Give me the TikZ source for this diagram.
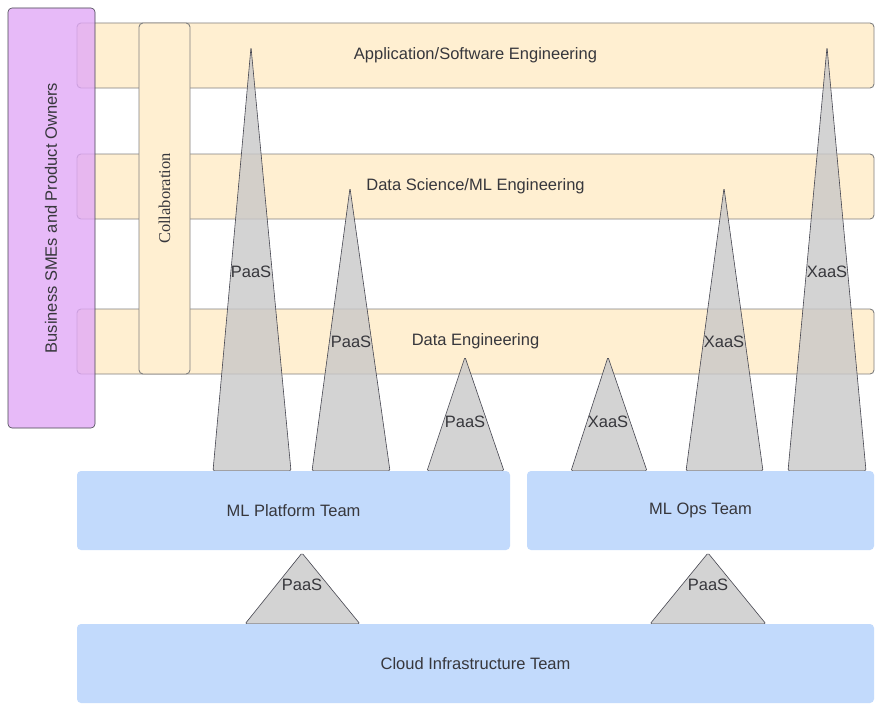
\documentclass[tikz,border=0pt]{standalone}
\usepackage{fontspec}
\setmainfont{Liberation Sans}
\newfontfamily\collabfont{Liberation Serif}
\definecolor{purplefill}{RGB}{225,169,247}
\definecolor{bandsolid}{RGB}{255,239,209}
\definecolor{bluefill}{RGB}{194,218,252}
\definecolor{trifill}{RGB}{200,200,200}
\definecolor{txt}{RGB}{55,55,60}
\definecolor{edge}{RGB}{128,128,128}
\definecolor{darkedge}{RGB}{70,70,80}
\begin{document}
\begin{tikzpicture}[x=1pt,y=-1pt,
  font=\fontsize{16.5}{19}\selectfont, text=txt,
  box/.style={rectangle, rounded corners=4pt, inner sep=0pt},
  band/.style={box, draw=edge, fill=bandsolid, line width=0.9pt},
  team/.style={box, fill=bluefill},
  tristyle/.style={fill=trifill, fill opacity=0.8, draw=darkedge, line width=0.6pt, rounded corners=1.5pt},
  lbl/.style={inner sep=0pt}]
\useasboundingbox (0,0) rectangle (880,709);
\fill[white] (0,0) rectangle (880,709);

% bands
\node[band, minimum width=797pt, minimum height=65pt] (app) at (475.5,55.5) {Application/Software Engineering};
\node[band, minimum width=797pt, minimum height=65pt] (dsml) at (475.5,186.5) {Data Science/ML Engineering};
\node[band, minimum width=797pt, minimum height=65pt] (dataeng) at (475.5,341.5) {Data Engineering};

% purple owners box
\node[box, draw=darkedge, fill=purplefill, fill opacity=0.8, line width=0.6pt,
      minimum width=87pt, minimum height=420pt] (owners) at (51.5,218) {};
\node[lbl, rotate=90] (ownerstext) at (51,218) {Business SMEs and Product Owners};

% triangles
\foreach \ax/\ay/\bl/\br/\by in {251/47/213/291/471, 350/188/312/390/471,
   465/357/427/504/471, 608/357/571/647/471, 724/188/686/763/471,
   827/47/788/866/471, 302/553/245/360/624, 708/553/650/766/624}{
  \draw[tristyle] (\ax,\ay) -- (\br,\by) -- (\bl,\by) -- cycle;
}

% collaboration box
\node[box, draw=edge, fill=bandsolid, line width=0.9pt,
      minimum width=51pt, minimum height=351pt] (collab) at (164.5,198.5) {};
\node[lbl, rotate=90, font=\collabfont\fontsize{16.5}{19}\selectfont] (collabtext) at (collab.center) {Collaboration};

% team boxes
\node[team, minimum width=433pt, minimum height=79pt] (mlplat) at (293.5,510.5) {ML Platform Team};
\node[team, minimum width=347pt, minimum height=79pt] (mlops) at (700.5,510.5) {ML Ops Team};
\node[team, minimum width=797pt, minimum height=79pt] (cloud) at (475.5,663.5) {Cloud Infrastructure Team};

% triangle labels
\node[lbl] (t1) at (251,272) {PaaS};
\node[lbl] (t2) at (351,342) {PaaS};
\node[lbl] (t3) at (465,422) {PaaS};
\node[lbl] (t4) at (608,422) {XaaS};
\node[lbl] (t5) at (724,342) {XaaS};
\node[lbl] (t6) at (827,272) {XaaS};
\node[lbl] (t7) at (302,585) {PaaS};
\node[lbl] (t8) at (708,585) {PaaS};
\end{tikzpicture}
\end{document}
